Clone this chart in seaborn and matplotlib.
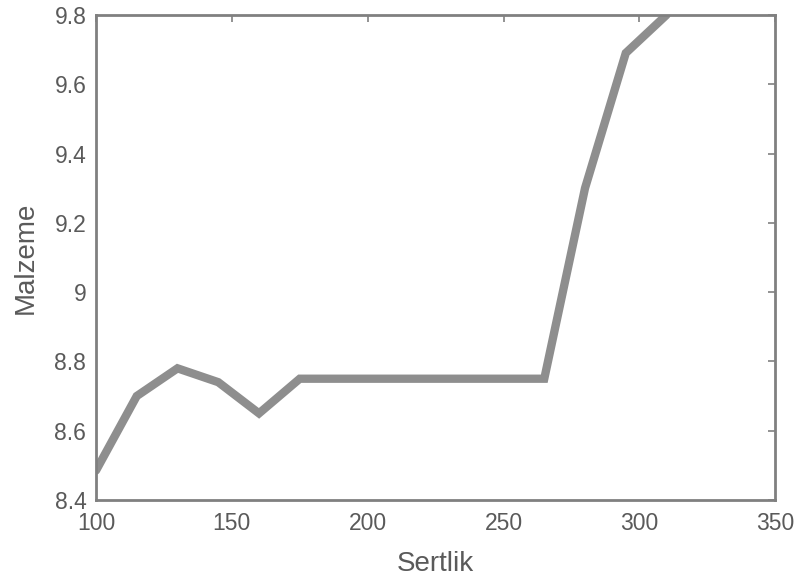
import matplotlib
matplotlib.use("Agg")
import matplotlib.pyplot as plt
import seaborn as sns
import pandas as pd

sertlik = [100, 115, 130, 145, 160, 175, 190, 205, 220, 235, 250, 265, 280, 295, 310]
malzeme = [8.485, 8.70, 8.78, 8.74, 8.65, 8.75, 8.75, 8.75, 8.75, 8.75, 8.75, 8.75, 9.30, 9.69, 9.80]
x_ticks = [100, 150, 200, 250, 300, 350]
y_ticks = [8.4, 8.6, 8.8, 9.0, 9.2, 9.4, 9.6, 9.8]
y_tick_labels = ["8.4", "8.6", "8.8", "9", "9.2", "9.4", "9.6", "9.8"]

sns.set_style("white")
plt.rcParams['font.family'] = ['Liberation Sans', 'DejaVu Sans']

df = pd.DataFrame({"Sertlik": sertlik, "Malzeme": malzeme})

fig = plt.figure(figsize=(8, 5.83), dpi=100)
ax = fig.add_axes([0.12, 0.1424, 0.849, 0.832])
sns.lineplot(data=df, x="Sertlik", y="Malzeme", ax=ax, color="#8e8e8e",
             linewidth=6, solid_joinstyle="miter", clip_on=True)

ax.set_xlim(100, 350)
ax.set_ylim(8.4, 9.8)
ax.set_xticks(x_ticks)
ax.set_yticks(y_ticks)
ax.set_yticklabels(y_tick_labels)
gray = "#808080"
txt = "#5a5a5a"
for s in ax.spines.values():
    s.set_color(gray)
    s.set_linewidth(2)
    s.set_visible(True)
ax.tick_params(direction="in", length=5, width=1.2, color=gray, labelcolor=txt,
               labelsize=16.5, top=True, right=True)
ax.tick_params(axis="x", pad=9)
ax.tick_params(axis="y", pad=7)
ax.set_xlabel("Sertlik", fontsize=20, color=txt, labelpad=11)
ax.set_ylabel("Malzeme", fontsize=20, color=txt, labelpad=11)

fig.savefig("out.png", dpi=100)
